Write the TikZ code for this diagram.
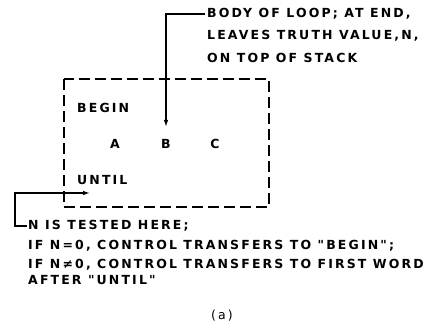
\documentclass[tikz,border=0pt]{standalone}
\usepackage{fontspec}
\setmainfont{DejaVu Sans}[LetterSpace=17,Ligatures=TeXOff]
\usetikzlibrary{arrows.meta}
\begin{document}
\begin{tikzpicture}[x=1pt,y=-1pt,
  lbl/.style={anchor=west,inner sep=0pt,font=\fontsize{12.5}{14}\selectfont\bfseries},
  word/.style={inner sep=0pt,font=\fontsize{12.5}{14}\selectfont\bfseries},
  conn/.style={line width=1.3pt},
  arr/.style={conn,-{Latex[length=7pt,width=4.5pt]}},
  box/.style={line width=1.8pt,dash pattern=on 11pt off 5pt}]
\useasboundingbox (0,0) rectangle (444,334);
% dashed box
\draw[box] (64,79) rectangle (269,207);
% words
\node[lbl] (begin) at (77,108) {BEGIN};
\node[word] (a) at (115,144) {A};
\node[word] (b) at (166,144) {B};
\node[word] (c) at (215,144) {C};
\node[lbl] (until) at (77,180) {UNTIL};
% top annotation
\node[lbl] (body1) at (207,14) {BODY OF LOOP; AT END,};
\node[lbl] (body2) at (207,36) {LEAVES TRUTH VALUE,N,};
\node[lbl] (body3) at (207,58) {ON TOP OF STACK};
\coordinate (tip1) at (166,127);
\draw[arr] ([xshift=-2pt]body1.west) -- (166,14) -- (tip1);
% bottom annotation
\node[lbl] (test1) at (28,226) {N IS TESTED HERE;};
\node[lbl] (test2) at (28,246) {IF N=0, CONTROL TRANSFERS TO "BEGIN";};
\node[lbl] (test3) at (28,265) {IF N≠0, CONTROL TRANSFERS TO FIRST WORD};
\node[lbl] (test4) at (28,280) {AFTER "UNTIL"};
\coordinate (tip2) at (90,193);
\draw[arr] ([xshift=-1pt]test1.west) -- (15,226) -- (15,193) -- (tip2);
\node[word,font=\fontsize{12.5}{14}\selectfont] (cap) at (222,316) {(a)};
\end{tikzpicture}
\end{document}
